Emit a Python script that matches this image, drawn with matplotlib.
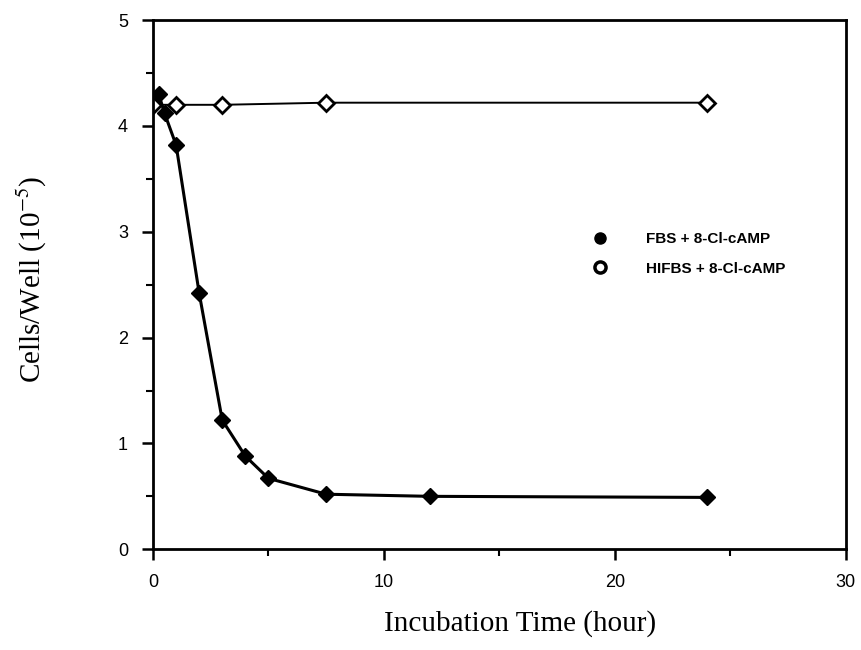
import matplotlib.pyplot as plt
from matplotlib.lines import Line2D
from matplotlib.ticker import MultipleLocator

plt.rcParams['mathtext.fontset'] = 'stix'

# FBS + 8-Cl-cAMP (filled diamonds)
fbs_time = [0.25, 0.5, 1, 2, 3, 4, 5, 7.5, 12, 24]
fbs_cells = [4.3, 4.12, 3.82, 2.42, 1.22, 0.88, 0.67, 0.52, 0.50, 0.49]

# HIFBS + 8-Cl-cAMP (open diamonds)
hifbs_time = [0, 1, 3, 7.5, 24]
hifbs_cells = [4.2, 4.2, 4.2, 4.22, 4.22]

fig = plt.figure(figsize=(8.62, 6.5), dpi=100)
ax = fig.add_axes([0.1775, 0.155, 0.8035, 0.814])

ax.plot(fbs_time, fbs_cells, color='black', linewidth=2.2, marker='D',
        markersize=8, markerfacecolor='black', markeredgecolor='black', zorder=3)
ax.plot(hifbs_time, hifbs_cells, color='black', linewidth=1.4, marker='D',
        markersize=8, markerfacecolor='white', markeredgecolor='black',
        markeredgewidth=2, zorder=2)

ax.set_xlim(0, 30)
ax.set_ylim(0, 5)
ax.set_xticks([0, 10, 20, 30])
ax.set_yticks([0, 1, 2, 3, 4, 5])
ax.yaxis.set_minor_locator(MultipleLocator(0.5))
ax.xaxis.set_minor_locator(MultipleLocator(5))

for side in ['top', 'right', 'left', 'bottom']:
    ax.spines[side].set_linewidth(2)
ax.tick_params(which='major', direction='out', length=8, width=1.8, labelsize=13,
               pad=10, top=False, right=False)
ax.tick_params(which='minor', direction='out', length=5, width=1.5,
               top=False, right=False)
for lab in ax.get_xticklabels() + ax.get_yticklabels():
    lab.set_family('Liberation Sans')

ax.set_xlabel('Incubation Time (hour)', family='Liberation Serif', fontsize=21)
ax.xaxis.set_label_coords(0.53, -0.115)
ax.set_ylabel('Cells/Well (10$^{-5}$)', family='Liberation Serif', fontsize=21)
ax.yaxis.set_label_coords(-0.15, 0.51)

handles = [
    Line2D([0], [0], marker='o', linestyle='none', markersize=8,
           markerfacecolor='black', markeredgecolor='black'),
    Line2D([0], [0], marker='o', linestyle='none', markersize=8,
           markerfacecolor='white', markeredgecolor='black', markeredgewidth=2.5),
]
ax.legend(handles, ['FBS + 8-Cl-cAMP', 'HIFBS + 8-Cl-cAMP'], frameon=False,
          loc='upper left', bbox_to_anchor=(0.603, 0.625), handletextpad=2.0,
          labelspacing=1.0, prop={'family': 'Liberation Sans', 'size': 11,
                                  'weight': 'bold'})

fig.savefig('out.png', dpi=100)
